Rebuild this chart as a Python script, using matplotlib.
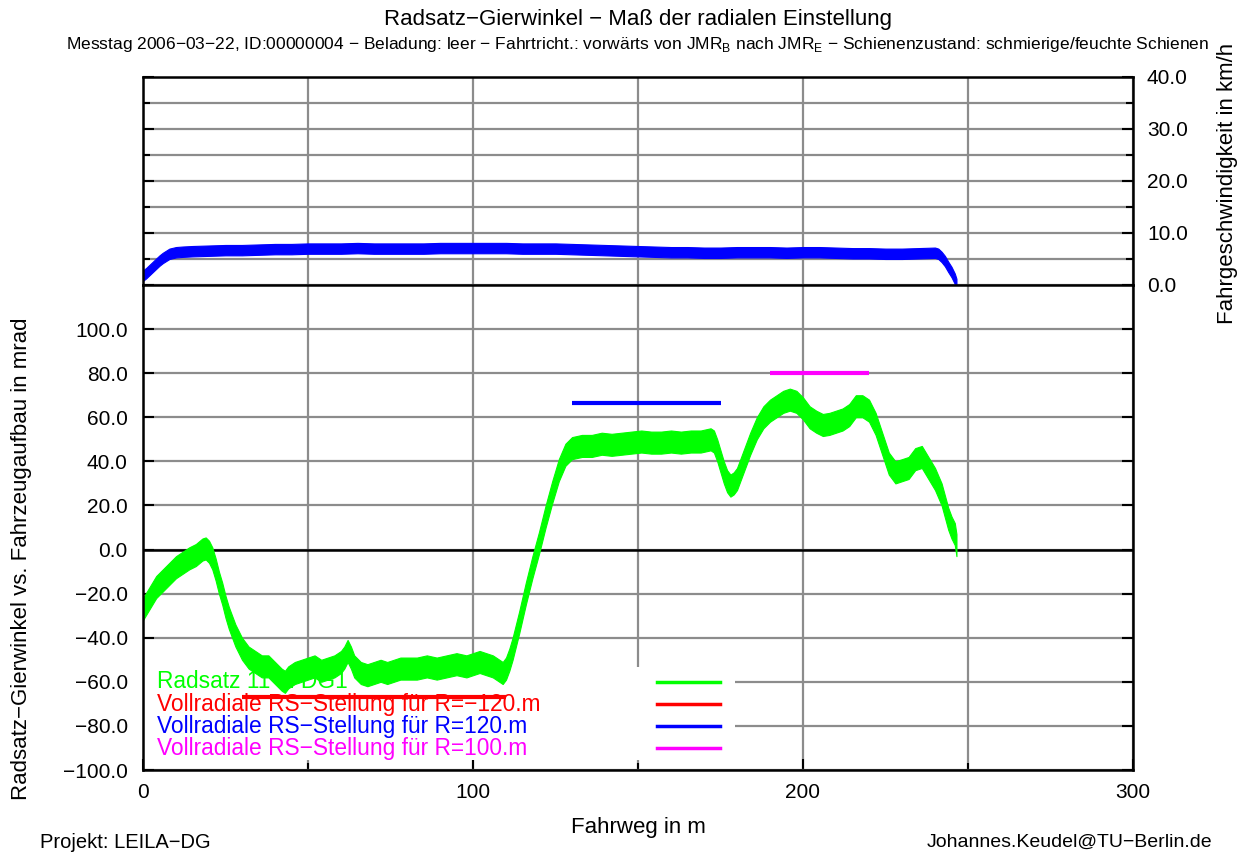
import matplotlib
matplotlib.use("Agg")
import matplotlib.pyplot as plt
from matplotlib.ticker import MultipleLocator, FuncFormatter
from matplotlib.patches import Rectangle
import numpy as np

plt.rcParams['font.family'] = ['Liberation Sans', 'DejaVu Sans']
plt.rcParams['mathtext.fontset'] = 'custom'
plt.rcParams['mathtext.rm'] = 'Liberation Sans'

# Radsatz-Gierwinkel (mrad) vs Fahrweg (m), band centre
gier_x = [0, 2, 4, 6, 8, 10, 12, 14, 16, 18, 19, 20, 21, 22, 23, 24, 25, 26, 27, 28,
          29, 30, 32, 34, 36, 38, 40, 42, 43, 44, 46, 48, 50, 52, 54, 56, 58, 60, 61, 62,
          63, 64, 66, 68, 70, 72, 74, 76, 78, 80, 83, 86, 89, 92, 95, 98, 100, 102, 104, 106,
          108, 109, 110, 111, 112, 114, 116, 118, 120, 122, 124, 126, 128, 130, 133, 136, 139, 142, 145, 148,
          151, 154, 157, 160, 163, 166, 169, 172, 173, 174, 175, 176, 177, 178, 179, 180, 182, 184, 186, 188,
          190, 192, 194, 196, 198, 200, 202, 204, 206, 208, 210, 212, 214, 216, 218, 220, 222, 224, 226, 228,
          230, 232, 234, 236, 238, 240, 242, 244, 245, 246, 246.5]
gier_y = [-27, -22, -17, -14, -11, -8, -6, -4, -2.5, 0, 0.5, -1, -4, -9, -15, -20, -26, -31, -35, -39,
          -42, -45, -49, -51, -53, -53, -56, -59, -60, -58, -56, -55, -54, -53, -55, -54, -53, -51, -49, -46,
          -49, -53, -56, -57, -56, -55, -56, -55, -54, -54, -54, -53, -54, -53, -52, -53, -52, -51, -52, -53,
          -55, -56, -54, -50, -45, -33, -20, -8, 3, 15, 26, 36, 43, 46, 47, 47, 48, 47.5, 48, 48.5,
          49, 48.5, 48.5, 49, 48.5, 49, 49, 50, 49, 45, 40, 35, 31, 29, 30, 32, 40, 48, 55, 60,
          63, 65, 67, 68, 67, 64, 60, 58, 56.5, 57, 58, 59, 61, 65, 65, 63, 57, 48, 39, 35,
          36, 37, 41, 42, 37, 32, 25, 14, 10, 7, 2]

# Fahrgeschwindigkeit (km/h)
v_x = [0, 1, 2, 3, 4, 5, 6, 7, 8, 10, 12, 15,
       20, 25, 30, 35, 40, 45, 50, 55, 60, 65, 70, 75, 80, 85, 90, 95, 100, 105, 110, 115,
       120, 125, 130, 135, 140, 145, 150, 155, 160, 165, 170, 175, 180, 185, 190, 195, 200, 205,
       210, 215, 220, 225, 230, 235, 240, 241, 242, 243, 244, 245, 246, 246.5]
v_y = [1.8, 2.3, 2.9, 3.5, 4.1, 4.7, 5.2, 5.6, 6.0, 6.3, 6.4, 6.5,
       6.6, 6.7, 6.7, 6.8, 6.9, 6.9, 7.0, 7.0, 7.0, 7.1, 7.0, 7.0, 7.0, 7.0, 7.1, 7.1, 7.1, 7.1, 7.1, 7.0,
       7.0, 7.0, 6.9, 6.8, 6.7, 6.6, 6.5, 6.4, 6.3, 6.3, 6.2, 6.2, 6.3, 6.3, 6.3, 6.2, 6.3, 6.3,
       6.2, 6.1, 6.1, 6.0, 6.0, 6.1, 6.2, 6.0, 5.4, 4.6, 3.5, 2.5, 1.2, 0.2]

# Vollradiale RS-Stellung: (x von, x bis, Wert)
ref_lines = [(30, 110, -66.7, '#ff0000'), (130, 175, 66.7, '#0000ff'), (190, 220, 80.0, '#ff00ff')]

legend_labels = ['Radsatz 11 in DG1', 'Vollradiale RS\u2212Stellung f\u00fcr R=\u2212120.m',
                 'Vollradiale RS\u2212Stellung f\u00fcr R=120.m', 'Vollradiale RS\u2212Stellung f\u00fcr R=100.m']
legend_colors = ['#00ff00', '#ff0000', '#0000ff', '#ff00ff']

gier_half = 5.0   # Bandbreite des Rauschens
v_half = 1.0

fig = plt.figure(figsize=(12.46, 8.52), dpi=100)
L, R = 143/1246, 1133/1246
ax = fig.add_axes([L, 1-770/852, R-L, (770-285)/852])
axv = fig.add_axes([L, 1-285/852, R-L, (285-77)/852], sharex=ax)

grid_c = '#8c8c8c'
fmt = FuncFormatter(lambda v, p: f"{v:.1f}".replace('-', '\u2212'))

for a in (ax, axv):
    for s in a.spines.values():
        s.set_linewidth(1.8)
    a.set_axisbelow(True)
    a.tick_params(which='both', direction='in', left=True, right=True, width=1.5, labelsize=15)
    a.tick_params(which='major', length=8)
    a.tick_params(which='minor', length=5)
    a.grid(True, which='both', color=grid_c, lw=1.6)

ax.set_xlim(0, 300)
ax.xaxis.set_major_locator(MultipleLocator(100))
ax.xaxis.set_minor_locator(MultipleLocator(50))
ax.xaxis.set_major_formatter(FuncFormatter(lambda v, p: f"{v:.0f}"))
ax.set_ylim(-100, 120)
ax.set_yticks(np.arange(-100, 101, 20))
ax.yaxis.set_major_formatter(fmt)
ax.tick_params(axis='y', pad=11)
ax.tick_params(axis='x', pad=9, top=False)
ax.spines['top'].set_visible(False)
ax.axhline(0, color='black', lw=1.8, zorder=1)

axv.set_ylim(0, 40)
axv.yaxis.set_major_locator(MultipleLocator(10))
axv.yaxis.set_minor_locator(MultipleLocator(5))
axv.yaxis.set_major_formatter(fmt)
axv.tick_params(axis='y', labelleft=False, labelright=True, pad=10)
axv.tick_params(axis='x', which='both', length=0, labelbottom=False)
axv.spines['bottom'].set_color('black')

# Legende mit weissem Hintergrund unter den Kurven
ax.add_patch(Rectangle((0, 0.02), 0.598, 0.192, transform=ax.transAxes,
                       facecolor='white', edgecolor='none', zorder=1))
for i, (lab, c) in enumerate(zip(legend_labels, legend_colors)):
    yy = (770 - 682 - 22*i) / 485
    ax.text(14/990, yy, lab, color=c, fontsize=16.4, va='center', ha='left',
            transform=ax.transAxes, zorder=1.5)
    ax.plot([514/990, 577/990], [yy, yy], color=c, lw=2.5, transform=ax.transAxes, zorder=1.5)

gx = np.array(gier_x)
gy = np.array(gier_y)
ax.fill_between(gx, gy - gier_half, gy + gier_half, color='#00ff00', lw=0.8, zorder=2)
for x0, x1, yv, c in ref_lines:
    ax.plot([x0, x1], [yv, yv], color=c, lw=3, solid_capstyle='butt', zorder=3)

vx = np.array(v_x)
vy = np.array(v_y)
axv.fill_between(vx, np.clip(vy - v_half, 0, None), vy + v_half, color='#0000ff', lw=0.8, zorder=2)

fig.text(638/1246, 1-20/852, 'Radsatz\u2212Gierwinkel \u2212 Ma\u00df der radialen Einstellung',
         ha='center', va='center', fontsize=16)
fig.text(638/1246, 1-44/852,
         'Messtag 2006\u221203\u221222, ID:00000004 \u2212 Beladung: leer \u2212 Fahrtricht.: vorw\u00e4rts von '
         'JMR$_\\mathregular{B}$ nach JMR$_\\mathregular{E}$ \u2212 Schienenzustand: schmierige/feuchte Schienen',
         ha='center', va='center', fontsize=12.5)
fig.text(22/1246, 1-559/852, 'Radsatz\u2212Gierwinkel vs. Fahrzeugaufbau in mrad',
         rotation=90, ha='center', va='center', fontsize=16)
fig.text(1228/1246, 1-183/852, 'Fahrgeschwindigkeit in km/h',
         rotation=90, ha='center', va='center', fontsize=16)
fig.text(638/1246, 1-828/852, 'Fahrweg in m', ha='center', va='center', fontsize=16)
fig.text(40/1246, 1-842/852, 'Projekt: LEILA\u2212DG', ha='left', va='center', fontsize=14.5)
fig.text(1212/1246, 1-842/852, 'Johannes.Keudel@TU\u2212Berlin.de', ha='right', va='center', fontsize=14)

fig.savefig('out.png', dpi=100)
